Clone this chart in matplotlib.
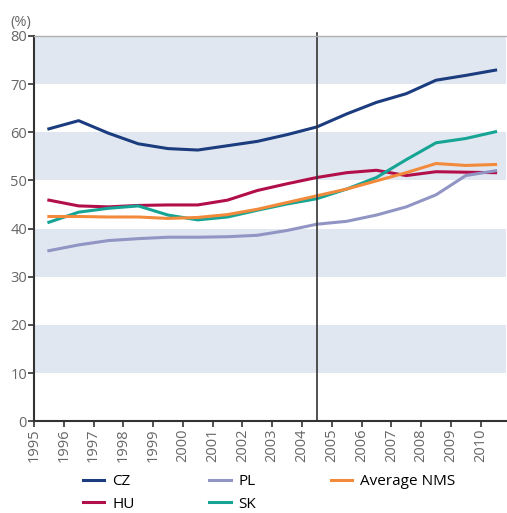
import matplotlib.pyplot as plt
import numpy as np

plt.rcParams['font.family'] = ['Open Sans', 'DejaVu Sans']

years = np.arange(1995, 2011)
cz = [60.7, 62.4, 59.8, 57.6, 56.6, 56.3, 57.2, 58.1, 59.5, 61.1, 63.8, 66.2, 68.0, 70.8, 71.8, 72.9]
hu = [45.9, 44.7, 44.5, 44.8, 44.9, 44.9, 45.9, 47.9, 49.3, 50.6, 51.6, 52.1, 51.0, 51.8, 51.7, 51.6]
pl = [35.4, 36.6, 37.5, 37.9, 38.2, 38.2, 38.3, 38.6, 39.6, 40.9, 41.5, 42.8, 44.5, 47.0, 51.0, 52.0]
sk = [41.3, 43.4, 44.2, 44.7, 42.8, 41.8, 42.4, 43.8, 45.1, 46.2, 48.2, 50.6, 54.3, 57.8, 58.7, 60.1]
avg_nms = [42.5, 42.5, 42.4, 42.4, 42.1, 42.3, 42.9, 44.0, 45.4, 46.8, 48.2, 49.9, 51.6, 53.5, 53.1, 53.3]

fig = plt.figure(figsize=(5.07, 5.13), dpi=100)
ax = fig.add_axes([0.067, 0.179, 0.931, 0.751])

# shaded horizontal bands
for lo in [10, 30, 50, 70]:
    ax.axhspan(lo, lo + 10, color='#e1e7f1', lw=0, zorder=0)

x = years + 0.5
ax.plot(x, cz, color='#1b3c7e', lw=2.2, label='CZ')
ax.plot(x, hu, color='#b20f4a', lw=2.2, label='HU')
ax.plot(x, pl, color='#9095c4', lw=2.2, label='PL')
ax.plot(x, sk, color='#16a595', lw=2.2, label='SK')
ax.plot(x, avg_nms, color='#f28a3b', lw=2.2, label='Average NMS')

ax.axvline(2004.5, ymin=0, ymax=1.008, color='#333333', lw=1.2, clip_on=False)

ax.set_xlim(1995, 2010.85)
ax.set_ylim(0, 80)
ax.set_yticks(range(0, 81, 10))
ax.set_xticks(years)
ax.set_xticklabels([str(y) for y in years], rotation=90)

for s in ['left', 'bottom']:
    ax.spines[s].set_color('#333333')
    ax.spines[s].set_linewidth(1.5)
ax.spines['right'].set_visible(False)
ax.spines['top'].set_color('#b0b0b0')
ax.spines['top'].set_linewidth(1.0)
ax.tick_params(axis='both', colors='#333333', labelcolor='#666666',
               labelsize=10.5, length=4, width=1.2, pad=1)

ax.text(-0.005, 1.015, '(%)', transform=ax.transAxes, color='#666666',
        fontsize=10.5, ha='right', va='bottom')

fig.legend(ncol=3, loc='upper left', bbox_to_anchor=(83 / 507, 1 - 474 / 513),
           frameon=False, fontsize=11, handlelength=1.4, columnspacing=4.9,
           labelspacing=0.5, handletextpad=0.5, borderpad=0, borderaxespad=0)

fig.savefig('out.png', dpi=100)
